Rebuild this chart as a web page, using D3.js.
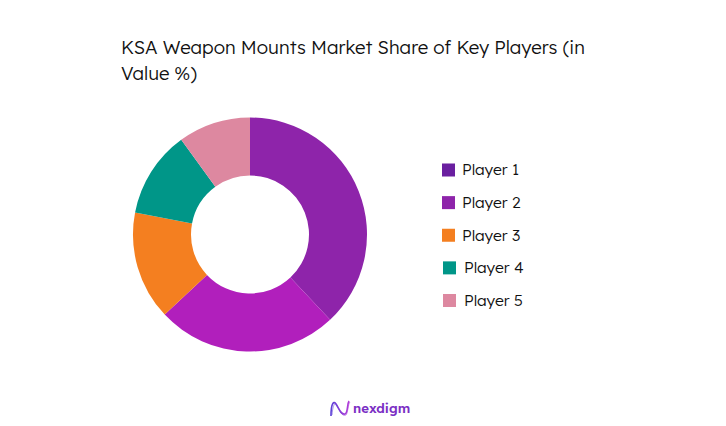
<!DOCTYPE html>
<html>
<head>
<meta charset="utf-8">
<script src="https://cdn.jsdelivr.net/npm/d3@7"></script>
<style>
  html, body { margin: 0; padding: 0; background: #ffffff; }
  svg { display: block; }
</style>
</head>
<body>
<svg id="chart" width="726" height="426"></svg>
<script>
const categories = ["Player 1", "Player 2", "Player 3", "Player 4", "Player 5"];
const values = [38, 25, 15, 12, 10];
const sliceColors = ["#8E24AA", "#B11FBC", "#F47F20", "#009688", "#DD88A0"];
const legendColors = ["#6A1FA0", "#8E24AA", "#F47F20", "#009688", "#DD88A0"];
const titleLines = ["KSA Weapon Mounts Market Share of Key Players (in", "Value %)"];

const svg = d3.select("#chart");
const font = "Lexend, Inter, 'Open Sans', sans-serif";

// Title
svg.append("g").selectAll("text")
  .data(titleLines)
  .join("text")
  .attr("x", 121)
  .attr("y", (d, i) => 54 + i * 26)
  .attr("font-family", font)
  .attr("font-size", 18.6)
  .attr("font-weight", 350)
  .attr("fill", "#111111")
  .text(d => d);

// Donut
const cx = 250, cy = 234.5, outerR = 117, innerR = 59;
const pie = d3.pie().sort(null).value(d => d.v);
const arc = d3.arc().innerRadius(innerR).outerRadius(outerR);
const data = categories.map((c, i) => ({ c, v: values[i], i }));

svg.append("g")
  .attr("transform", `translate(${cx},${cy})`)
  .selectAll("path")
  .data(pie(data))
  .join("path")
  .attr("d", arc)
  .attr("fill", d => sliceColors[d.data.i]);

// Legend
const legendY = d3.scalePoint().domain(categories).range([170, 300.5]);
const lg = svg.append("g").selectAll("g")
  .data(categories)
  .join("g")
  .attr("transform", (d, i) => `translate(${i >= 3 ? 443 : 442},${legendY(d)})`);
lg.append("rect")
  .attr("x", 0).attr("y", -6.5)
  .attr("width", 13).attr("height", 13)
  .attr("fill", (d, i) => legendColors[i]);
lg.append("text")
  .attr("x", (d, i) => i >= 3 ? 21 : 20)
  .attr("y", 0)
  .attr("dy", "0.35em")
  .attr("font-family", font)
  .attr("font-size", 15.6)
  .attr("font-weight", 350)
  .attr("fill", "#111111")
  .text(d => d);

// Logo
const logo = svg.append("g").attr("transform", "translate(330,400)");
const grad = svg.append("defs").append("linearGradient").attr("id", "lg1")
  .attr("x1", "0%").attr("x2", "100%");
grad.append("stop").attr("offset", "0%").attr("stop-color", "#5B3FD6");
grad.append("stop").attr("offset", "100%").attr("stop-color", "#B23BD8");
logo.append("path")
  .attr("d", "M1,16 C1,2 4,1 6,4 C9,9 11,15 15,14 C18,13 17,4 19,1")
  .attr("fill", "none").attr("stroke", "url(#lg1)").attr("stroke-width", 1.6);
logo.append("path")
  .attr("d", "M2,15 C3,4 5,2 7,5 C10,11 12,17 16,15 C18,13 18,4 20,2")
  .attr("fill", "none").attr("stroke", "url(#lg1)").attr("stroke-width", 0.8).attr("opacity", 0.7);
logo.append("text")
  .attr("x", 23).attr("y", 12.5)
  .attr("font-family", font)
  .attr("font-weight", 600)
  .attr("font-size", 13.2)
  .attr("fill", "#7B2FC4")
  .text("nexdigm");
</script>
</body>
</html>
